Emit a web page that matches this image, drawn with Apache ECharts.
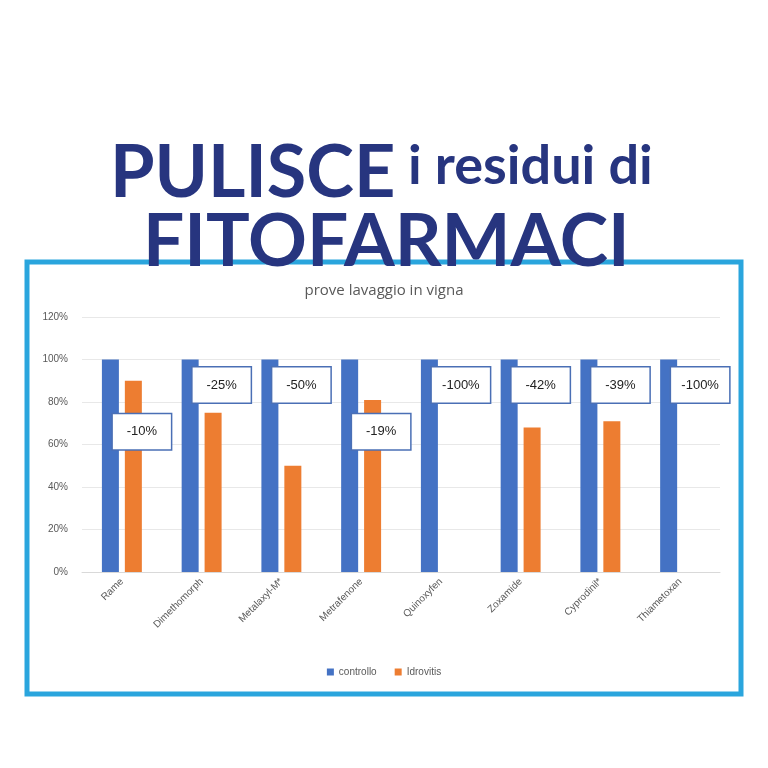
<!DOCTYPE html>
<html><head><meta charset="utf-8">
<script src="https://cdn.jsdelivr.net/npm/echarts@6/dist/echarts.min.js"></script>
<style>html,body{margin:0;background:#fff}#c{width:768px;height:768px}</style>
</head><body><div id="c"></div>
<script>
var categories=['Rame','Dimethomorph','Metalaxyl-M*','Metrafenone','Quinoxyfen','Zoxamide','Cyprodinil*','Thiametoxan'];
var controllo=[100,100,100,100,100,100,100,100];
var idrovitis=[90,75,50,81,0,68,71,0];
var reduction=['-10%','-25%','-50%','-19%','-100%','-42%','-39%','-100%'];
var labelLevel=[66,88,88,66,88,88,88,88];
var yTicks=[0,20,40,60,80,100,120];
var chart=echarts.init(document.getElementById('c'));
chart.setOption({
 animation:false,
 graphic:[
  {type:'rect',shape:{x:27,y:262,width:714,height:432},style:{fill:'none',stroke:'#2aa5dd',lineWidth:5}},
  {type:'text',x:110,y:138,style:{text:'PULISCE',font:'bold 72px Lato',fill:'#27357f',textVerticalAlign:'alphabetic',verticalAlign:'alphabetic'}},
  {type:'text',x:408,y:140,style:{text:'i residui di',font:'bold 54px Lato',fill:'#27357f',textVerticalAlign:'alphabetic',verticalAlign:'alphabetic'}},
  {type:'text',x:143,y:206,style:{text:'FITOFARMACI',font:'bold 73px Lato',fill:'#27357f',textVerticalAlign:'alphabetic',verticalAlign:'alphabetic'}}
 ],
 title:{text:'prove lavaggio in vigna',left:'center',top:278,textStyle:{color:'#595959',fontSize:15,fontWeight:'normal',fontFamily:'Open Sans'}},
 legend:{bottom:86,itemWidth:7,itemHeight:7,itemGap:18,icon:'rect',data:['controllo','Idrovitis'],textStyle:{color:'#595959',fontSize:10}},
 grid:{left:82,right:48,top:317,bottom:196,containLabel:false},
 xAxis:{type:'category',data:categories,axisTick:{show:false},axisLine:{lineStyle:{color:'#d9d9d9'}},
  axisLabel:{rotate:45,color:'#595959',fontSize:10,interval:0}},
 yAxis:{type:'value',min:0,max:120,interval:20,axisLabel:{formatter:'{value}%',color:'#595959',fontSize:10,margin:14},
  splitLine:{lineStyle:{color:'#e8e8e8'}}},
 series:[
  {name:'controllo',type:'bar',data:controllo,barWidth:17,barGap:'35%',itemStyle:{color:'#4472c4'}},
  {name:'Idrovitis',type:'bar',data:idrovitis,barWidth:17,itemStyle:{color:'#ed7d31'}},
  {type:'scatter',data:labelLevel.map(function(v,i){return {value:v,lab:reduction[i]};}),symbolSize:0,itemStyle:{color:'#ffffff',opacity:1},
   emphasis:{disabled:true},silent:true,
   label:{show:true,position:'inside',offset:[20,0],formatter:function(p){return p.data.lab;},color:'#222',fontSize:13,opacity:1,
    backgroundColor:'#ffffff',borderColor:'#4a6fb5',borderWidth:1.5,padding:[11,10],width:38,align:'center'},z:10}
 ]
});
</script></body></html>
